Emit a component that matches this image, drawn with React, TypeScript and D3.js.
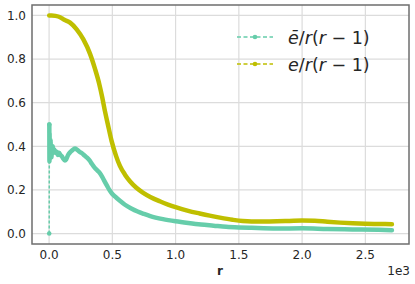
import { useEffect, useRef } from 'react'
import * as d3 from 'd3'

// ē/r(r-1)
const rBar = [1, 2, 3, 4, 5, 6, 7, 8, 10, 12, 14, 16, 19, 22, 26, 30, 35, 40, 50, 60, 70, 80, 90, 100, 110, 125, 135, 150, 170, 190, 205, 220, 240, 260, 280, 300, 320, 340, 360, 380, 400, 420, 440, 460, 480, 500, 530, 560, 600, 650, 700, 750, 800, 900, 1000, 1100, 1200, 1300, 1400, 1500, 1600, 1800, 2000, 2200, 2400, 2600, 2710]
const eBar = [0, 0.5, 0.33, 0.46, 0.36, 0.42, 0.34, 0.41, 0.37, 0.43, 0.35, 0.4, 0.35, 0.39, 0.37, 0.4, 0.37, 0.385, 0.37, 0.375, 0.36, 0.37, 0.36, 0.355, 0.345, 0.335, 0.34, 0.36, 0.375, 0.385, 0.39, 0.385, 0.375, 0.368, 0.358, 0.348, 0.335, 0.318, 0.302, 0.29, 0.278, 0.26, 0.238, 0.217, 0.197, 0.181, 0.165, 0.15, 0.132, 0.115, 0.101, 0.09, 0.08, 0.066, 0.056, 0.048, 0.041, 0.036, 0.031, 0.028, 0.026, 0.023, 0.024, 0.021, 0.019, 0.017, 0.015]

// e/r(r-1)
const rE = [1, 20, 50, 87, 120, 166, 218, 271, 323, 363, 397, 420, 442, 463, 494, 530, 560, 600, 639, 690, 741, 800, 875, 940, 1000, 1100, 1190, 1270, 1350, 1450, 1530, 1600, 1700, 1800, 1900, 2000, 2100, 2200, 2300, 2400, 2500, 2600, 2710]
const eVal = [1.0, 1.0, 0.998, 0.992, 0.98, 0.967, 0.936, 0.89, 0.825, 0.755, 0.685, 0.625, 0.56, 0.505, 0.425, 0.355, 0.31, 0.27, 0.24, 0.21, 0.188, 0.168, 0.148, 0.133, 0.121, 0.104, 0.092, 0.082, 0.073, 0.063, 0.057, 0.055, 0.055, 0.056, 0.058, 0.06, 0.059, 0.054, 0.05, 0.047, 0.045, 0.044, 0.043]

const xTicks = [0, 500, 1000, 1500, 2000, 2500]
const yTicks = [0, 0.2, 0.4, 0.6, 0.8, 1.0]

const GREEN = '#66cdaa'
const YELLOW = '#bfbf00'

export default function App() {
    const ref = useRef<SVGSVGElement>(null)
    const width = 415
    const height = 284

    useEffect(() => {
        draw()
    })

    const draw = () => {
        const svg = d3.select(ref.current)
        svg.selectAll('*').remove()
        const left = 32, right = 409, top = 5, bottom = 244
        const x = d3.scaleLinear().domain([-135, 2845]).range([left, right])
        const y = d3.scaleLinear().domain([-0.048, 1.048]).range([bottom, top])
        const font = 'DejaVu Sans, sans-serif'

        // grid
        svg.append('g').selectAll('line').data(xTicks).enter().append('line')
            .attr('x1', d => x(d)).attr('x2', d => x(d))
            .attr('y1', top).attr('y2', bottom)
            .attr('stroke', '#dcdcdc').attr('stroke-width', 1.2)
        svg.append('g').selectAll('line').data(yTicks).enter().append('line')
            .attr('y1', d => y(d)).attr('y2', d => y(d))
            .attr('x1', left).attr('x2', right)
            .attr('stroke', '#dcdcdc').attr('stroke-width', 1.2)

        const drawSeries = (rs: number[], vs: number[], color: string, sparse: number) => {
            const pts = rs.map((r, i) => [r, vs[i]] as [number, number])
            // sparse start: dashed with dots
            if (sparse > 0) {
                const straight = d3.line<[number, number]>().x(d => x(d[0])).y(d => y(d[1]))
                svg.append('path')
                    .datum(pts.slice(0, sparse + 1))
                    .attr('fill', 'none')
                    .attr('stroke', color)
                    .attr('stroke-width', 1.5)
                    .attr('stroke-dasharray', '3,2')
                    .attr('d', straight)
                svg.append('g').selectAll('circle').data(pts.slice(0, sparse + 1)).enter().append('circle')
                    .attr('cx', d => x(d[0])).attr('cy', d => y(d[1]))
                    .attr('r', 2.3).attr('fill', color)
            }
            const smooth = d3.line<[number, number]>()
                .x(d => x(d[0])).y(d => y(d[1]))
                .curve(d3.curveMonotoneX)
            svg.append('path')
                .datum(pts.slice(sparse))
                .attr('fill', 'none')
                .attr('stroke', color)
                .attr('stroke-width', 4.5)
                .attr('stroke-linejoin', 'round')
                .attr('stroke-linecap', 'round')
                .attr('d', smooth)
        }

        drawSeries(rBar, eBar, GREEN, 1)
        drawSeries(rE, eVal, YELLOW, 0)

        // spines
        svg.append('rect')
            .attr('x', left).attr('y', top)
            .attr('width', right - left).attr('height', bottom - top)
            .attr('fill', 'none').attr('stroke', '#6e6e6e').attr('stroke-width', 1.5)

        // tick labels
        svg.append('g').selectAll('text').data(xTicks).enter().append('text')
            .attr('x', d => x(d)).attr('y', 259)
            .attr('text-anchor', 'middle')
            .attr('font-family', font).attr('font-size', 12).attr('fill', '#262626')
            .text(d => (d / 1000).toFixed(1))
        svg.append('g').selectAll('text').data(yTicks).enter().append('text')
            .attr('x', 26).attr('y', d => y(d) + 4.3)
            .attr('text-anchor', 'end')
            .attr('font-family', font).attr('font-size', 12).attr('fill', '#262626')
            .text(d => d.toFixed(1))

        svg.append('text')
            .attr('x', 220).attr('y', 275)
            .attr('text-anchor', 'middle')
            .attr('font-family', font).attr('font-size', 12).attr('font-weight', 'bold').attr('fill', '#262626')
            .text('r')
        svg.append('text')
            .attr('x', 410).attr('y', 275)
            .attr('text-anchor', 'end')
            .attr('font-family', font).attr('font-size', 12).attr('fill', '#262626')
            .text('1e3')

        // legend
        const legend = [
            { label: 'ē', color: GREEN, y: 37 },
            { label: 'e', color: YELLOW, y: 64 },
        ]
        legend.forEach(item => {
            svg.append('line')
                .attr('x1', 237).attr('x2', 273)
                .attr('y1', item.y).attr('y2', item.y)
                .attr('stroke', item.color).attr('stroke-width', 1.5)
                .attr('stroke-dasharray', '4,2.5')
            svg.append('circle')
                .attr('cx', 255).attr('cy', item.y).attr('r', 2.3).attr('fill', item.color)
            const t = svg.append('text')
                .attr('x', 288).attr('y', item.y + 6.5)
                .attr('font-family', font).attr('font-size', 17.5).attr('fill', '#262626')
            t.append('tspan').attr('font-style', 'italic').text(item.label)
            t.append('tspan').text('/')
            t.append('tspan').attr('font-style', 'italic').text('r')
            t.append('tspan').text('(')
            t.append('tspan').attr('font-style', 'italic').text('r')
            t.append('tspan').text(' − 1)')
        })
    }

    return <svg width={width} height={height} ref={ref} style={{ position: 'absolute', left: 0, top: 0 }} />
}
